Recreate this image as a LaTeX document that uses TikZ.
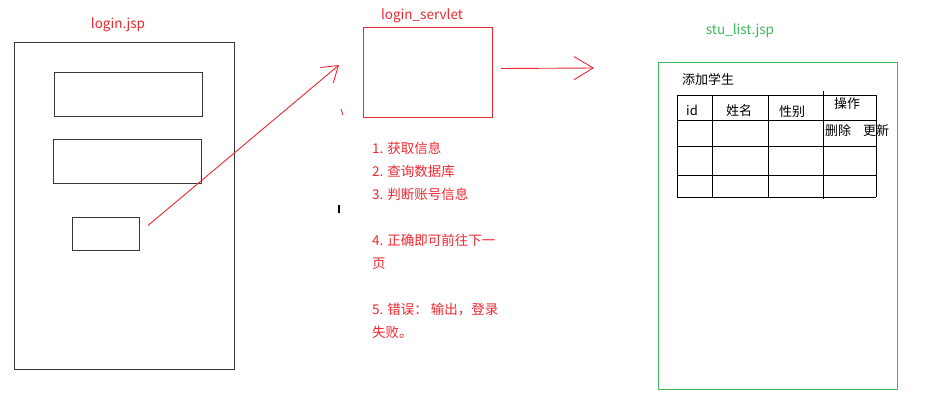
\documentclass[tikz,border=0pt]{standalone}
\usepackage{fontspec}
\newfontfamily\cjk{Noto Sans CJK SC}
\usepackage{tikz}
\usetikzlibrary{arrows.meta}
\definecolor{penRed}{RGB}{237,40,48}
\definecolor{penGreen}{RGB}{60,185,90}
\definecolor{penGray}{RGB}{55,55,55}

\begin{document}
\begin{tikzpicture}[x=1pt,y=-1pt]
    \tikzstyle{title} = [
      font=\cjk\fontsize{13.5pt}{15pt}\selectfont,
      anchor=center,
      inner sep=0pt,
    ]
    \tikzstyle{frame} = [
      draw=penGray,
      line width=1pt,
      anchor=north west,
      inner sep=0pt,
    ]
    \tikzstyle{arrow} = [
      draw=penRed,
      line width=0.9pt,
      -{Straight Barb[length=19pt,width=23pt]},
    ]
    \tikzstyle{cell} = [
      draw=black,
      line width=1pt,
    ]
    \tikzstyle{celltext} = [
      font=\cjk\fontsize{13pt}{15pt}\selectfont,
      anchor=center,
      inner sep=0pt,
    ]

    \useasboundingbox (0,0) rectangle (925,418);

    % login page
    {
      \node[title, text=penRed] (loginTitle) at (118,25) {login.jsp};
      \node[frame, minimum width=220pt, minimum height=327pt] (loginPage) at (14,42) {};
      \node[frame, minimum width=148pt, minimum height=44pt] (userField) at (54,72) {};
      \node[frame, minimum width=148pt, minimum height=44pt] (pwdField) at (53,139) {};
      \node[frame, minimum width=67pt, minimum height=33pt] (submitBtn) at (72,217) {};
    }

    % servlet
    {
      \node[title, text=penRed] (servletTitle) at (422,16) {login\_servlet};
      \node[frame, draw=penRed, minimum width=129pt, minimum height=90pt] (servlet) at (363,27) {};
      \node[anchor=north west, inner sep=0pt, align=left, text=penRed,
            font=\cjk\fontsize{13.5pt}{23pt}\selectfont] (servletSteps) at (372,141.5)
        {1. 获取信息\\
         2. 查询数据库\\
         3. 判断账号信息\\[23pt]
         4. 正确即可前往下一\\
         页\\[23pt]
         5. 错误： 输出，登录\\
         失败。};
    }

    % list page
    {
      \node[title, text=penGreen] (listTitle) at (740,31) {stu\_list.jsp};
      \node[frame, draw=penGreen, minimum width=239pt, minimum height=327pt] (listPage) at (658,62) {};
      \node[celltext] (addStudent) at (708,80) {添加学生};
    }

    % table
    {
      \foreach \y in {95,120,146,175,197}
        \draw[cell] (677,\y) -- (876,\y);
      \foreach \x in {677,712,768,876}
        \draw[cell] (\x,95) -- (\x,197);
      \draw[cell] (823,91) -- (823,199);
      \node[celltext] (colId)   at (692,110) {id};
      \node[celltext] (colName) at (739,111) {姓名};
      \node[celltext] (colSex)  at (792,112) {性别};
      \node[celltext] (colOp)   at (847,104) {操作};
      \node[celltext] (opDel)   at (838,131) {删除};
      \node[celltext] (opUpd)   at (876,131) {更新};
    }

    % submit -> servlet
    {
      \coordinate (servletIn) at (339,65);
      \draw[arrow, -{Straight Barb[length=15pt,width=20pt]}]
        ([xshift=8pt,yshift=8.5pt] submitBtn.east) -- (servletIn);
    }

    % servlet -> list
    {
      \coordinate (listIn) at (594,68);
      \draw[arrow] ([xshift=8pt,yshift=4pt] servlet.east) -- (listIn);
    }

    % stray marks
    {
      \draw[draw=penRed, line width=0.8pt] (341,109) -- (343,115);
      \draw[draw=black, line width=1.6pt] (339,205) -- (339,213);
    }
\end{tikzpicture}
\end{document}
